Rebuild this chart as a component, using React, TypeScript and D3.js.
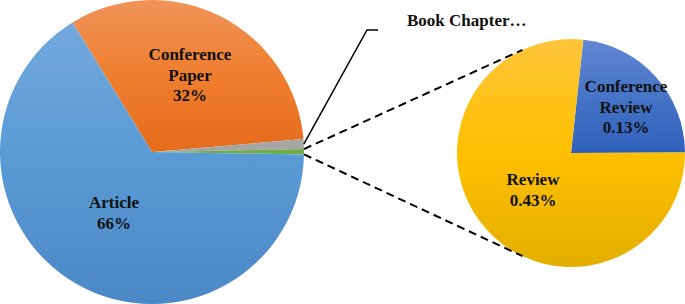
import React from "react";
import * as d3 from "d3";

// Main pie: document types, clockwise from the Article / Conference Paper split
const mainCategories = ["Conference Paper", "Book Chapter", "Other", "Article"];
const mainValues = [32.4, 1.04, 0.56, 66.0];
const mainLabels = ["Conference\nPaper\n32%", "", "", "Article\n66%"];

// Secondary pie: breakdown of the "Other" slice
const subCategories = ["Conference Review", "Review"];
const subValues = [0.13, 0.43];
const subLabels = ["Conference\nReview\n0.13%", "Review\n0.43%"];

const calloutLabel = "Book Chapter…";

const W = 685;
const H = 304;
const deg = Math.PI / 180;

const main = { cx: 152, cy: 152, r: 152, start: -31.5 * deg };
const sub = { cx: 571, cy: 153, r: 114, start: 6.2 * deg };

const mainFill = ["url(#gOrange)", "#a5a5a5", "#70ad47", "url(#gBlue)"];
const subFill = ["url(#gNavy)", "url(#gYellow)"];

const mainLabelPos = [
  [190, 60],
  null,
  null,
  [114, 208],
];
const subLabelPos = [
  [626, 92],
  [533, 185],
];

const font = "'Liberation Serif', 'Times New Roman', serif";

function polar(cx: number, cy: number, r: number, a: number): [number, number] {
  return [cx + r * Math.sin(a), cy - r * Math.cos(a)];
}

function Label({ text, x, y }: { text: string; x: number; y: number }) {
  const lines = text.split("\n");
  return (
    <text
      x={x}
      y={y}
      textAnchor="middle"
      fontFamily={font}
      fontWeight="bold"
      fontSize={17}
      fill="#111"
    >
      {lines.map((l, i) => (
        <tspan key={i} x={x} dy={i === 0 ? 0 : 20.5}>
          {l}
        </tspan>
      ))}
    </text>
  );
}

// Vertical three-stop gradient in the pie's local coordinates (centre at 0,0)
function Grad({ id, y1, y2, c }: { id: string; y1: number; y2: number; c: string[] }) {
  return (
    <linearGradient id={id} gradientUnits="userSpaceOnUse" x1="0" y1={y1} x2="0" y2={y2}>
      <stop offset="0" stopColor={c[0]} />
      <stop offset="0.5" stopColor={c[1]} />
      <stop offset="1" stopColor={c[2]} />
    </linearGradient>
  );
}

export default function App() {
  const mainPie = d3
    .pie<number>()
    .sort(null)
    .value((d) => d)
    .startAngle(main.start)
    .endAngle(main.start + 2 * Math.PI)(mainValues);
  const subPie = d3
    .pie<number>()
    .sort(null)
    .value((d) => d)
    .startAngle(sub.start)
    .endAngle(sub.start + 2 * Math.PI)(subValues);

  const mainArc = d3.arc<d3.PieArcDatum<number>>().innerRadius(0).outerRadius(main.r);
  const subArc = d3.arc<d3.PieArcDatum<number>>().innerRadius(0).outerRadius(sub.r);

  // connector lines from the "Other" slice to the secondary pie
  const other = mainPie[2];
  const p1 = polar(main.cx, main.cy, main.r, other.startAngle);
  const p2 = polar(main.cx, main.cy, main.r, other.endAngle);
  const q1 = polar(sub.cx, sub.cy, sub.r, (270 + 64.8) * deg);
  const q2 = polar(sub.cx, sub.cy, sub.r, (270 - 64.8) * deg);

  // leader line for the Book Chapter slice
  const book = mainPie[1];
  const b0 = polar(main.cx, main.cy, main.r, (book.startAngle + book.endAngle) / 2);
  const b1: [number, number] = [367, 30];
  const b2: [number, number] = [378, 30];

  return (
    <svg
      width={W}
      height={H}
      style={{ position: "absolute", left: 0, top: 0, background: "#fff" }}
    >
      <defs>
        <Grad id="gBlue" y1={-main.r} y2={main.r} c={["#76abdf", "#5b9bd5", "#4a88c6"]} />
        <Grad id="gOrange" y1={-main.r} y2={0} c={["#f1935a", "#ef7e2e", "#e46c1c"]} />
        <Grad id="gYellow" y1={-sub.r} y2={sub.r} c={["#ffc53a", "#ffc000", "#e3ae00"]} />
        <Grad id="gNavy" y1={-sub.r} y2={0} c={["#6287d2", "#4674c6", "#2f60bb"]} />
      </defs>

      <g transform={`translate(${main.cx},${main.cy})`}>
        {mainPie.map((d, i) => (
          <path key={mainCategories[i]} d={mainArc(d) || ""} fill={mainFill[i]} />
        ))}
      </g>
      <g transform={`translate(${sub.cx},${sub.cy})`}>
        {subPie.map((d, i) => (
          <path key={subCategories[i]} d={subArc(d) || ""} fill={subFill[i]} />
        ))}
      </g>

      <line x1={p1[0]} y1={p1[1]} x2={q1[0]} y2={q1[1]} stroke="#000" strokeWidth={2} strokeDasharray="8,5" />
      <line x1={p2[0]} y1={p2[1]} x2={q2[0]} y2={q2[1]} stroke="#000" strokeWidth={2} strokeDasharray="8,5" />

      <polyline
        points={[b0, b1, b2].map((p) => p.join(",")).join(" ")}
        fill="none"
        stroke="#000"
        strokeWidth={1.5}
      />

      {mainLabels.map((t, i) =>
        t && mainLabelPos[i] ? (
          <Label key={i} text={t} x={mainLabelPos[i]![0]} y={mainLabelPos[i]![1]} />
        ) : null
      )}
      {subLabels.map((t, i) => (
        <Label key={i} text={t} x={subLabelPos[i][0]} y={subLabelPos[i][1]} />
      ))}

      <text x={407} y={26} fontFamily={font} fontWeight="bold" fontSize={17} fill="#111">
        {calloutLabel}
      </text>
    </svg>
  );
}
